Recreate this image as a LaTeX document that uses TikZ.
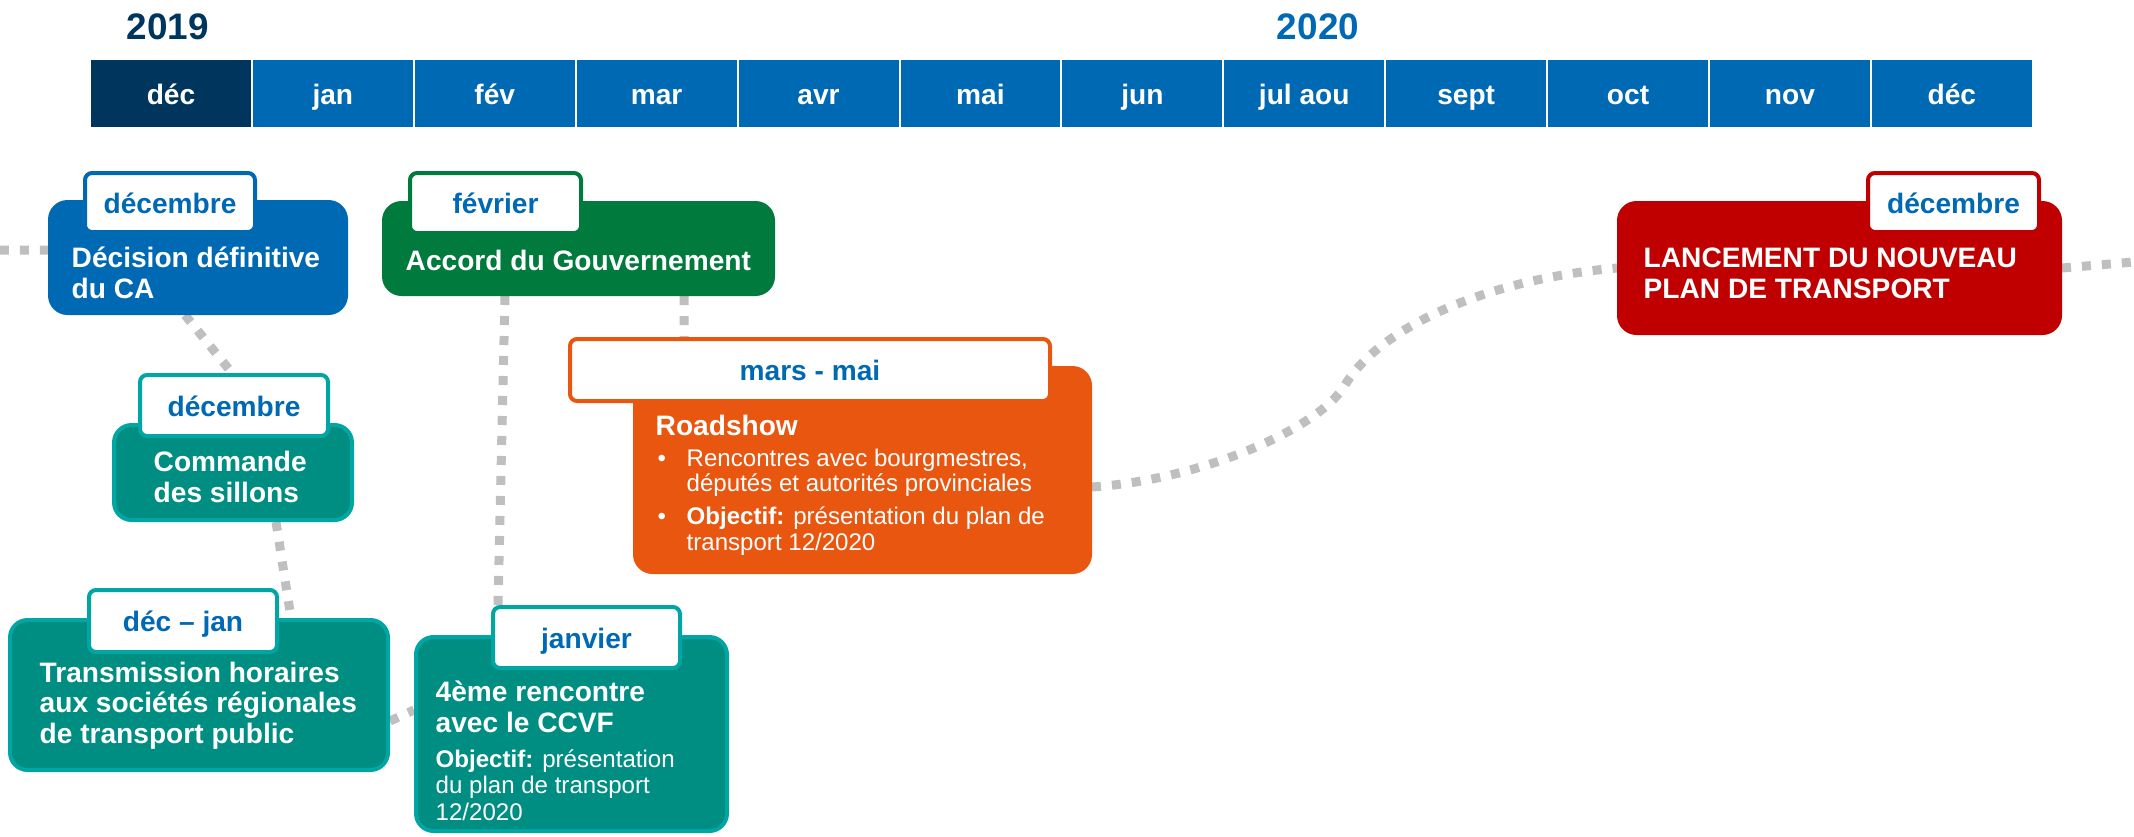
\documentclass[tikz,border=0pt]{standalone}
\usepackage{fontspec}
\setmainfont{Liberation Sans}
\usepackage{tikz}
\usetikzlibrary{backgrounds}

\definecolor{navy}{RGB}{0,53,94}
\definecolor{planblue}{RGB}{0,105,180}
\definecolor{govgreen}{RGB}{0,122,61}
\definecolor{roadorange}{RGB}{232,86,16}
\definecolor{launchred}{RGB}{192,0,0}
\definecolor{tealbody}{RGB}{0,142,130}
\definecolor{tealrim}{RGB}{0,166,163}
\definecolor{dotgrey}{RGB}{191,191,191}

\newcommand\headfont{\fontsize{8}{8.54}\selectfont\bfseries}
\newcommand\bodyfont{\fontsize{6.85}{7.3}\selectfont}
\newcommand\yearfont{\fontsize{10.5}{12}\selectfont\bfseries}

\begin{document}
\begin{tikzpicture}[x=0.1mm,y=-0.1mm,
	card/.style={draw=#1,fill=#1,line width=0.4mm,rounded corners=5pt,inner sep=0pt},
	tealcard/.style={draw=tealrim,fill=tealbody,line width=0.4mm,rounded corners=5pt,inner sep=0pt},
	tab/.style={draw=#1,fill=white,line width=0.4mm,rounded corners=2pt,inner sep=0pt,text=planblue,font=\headfont,text height=2.1mm,text depth=0mm},
	head/.style={text=white,font=\headfont,align=left,inner sep=0pt,anchor=base west},
	body/.style={text=white,font=\bodyfont,align=left,inner sep=0pt,anchor=base west},
	month/.style={fill=planblue,draw=white,line width=0.2mm,minimum width=16.19mm,minimum height=6.9mm,inner sep=0pt,text=white,font=\headfont,text height=2.1mm,text depth=0mm},
	link/.style={draw=dotgrey,line width=0.9mm,dash pattern=on 0.9mm off 1.1mm}]
	\useasboundingbox (0,0) rectangle (2134,836);

	% years and months
	\node[font=\yearfont,text=navy] (y2019) at (168,27) {2019};
	\node[font=\yearfont,text=planblue] (y2020) at (1318,27) {2020};
	\node[month,fill=navy] (m1) at (171,93.5) {déc};
	\foreach \m [count=\i from 2] in {jan,fév,mar,avr,mai,jun,jul aou,sept,oct,nov,déc}
		\node[month] (m\i) at ({90+161.9*(\i-0.5)},93.5) {\m};

	% milestones (text nodes sit on the baseline of their last line)
	\node[card=planblue,minimum width=29.6mm,minimum height=11.1mm] (ca) at (198,257.5) {};
	\node[tab=planblue,minimum width=17mm,minimum height=5.9mm] (caTab) at (170,202.5) {décembre};
	\node[head] (caText) at (71,298) {Décision définitive\\du CA};

	\node[card=govgreen,minimum width=38.9mm,minimum height=9.1mm] (gov) at (578.5,248.5) {};
	\node[tab=govgreen,minimum width=17.1mm,minimum height=6mm] (govTab) at (495.5,203) {février};
	\node[head] (govText) at (405,270) {Accord du Gouvernement};

	\node[tealcard,minimum width=23.8mm,minimum height=9.5mm] (sillons) at (233,472.5) {};
	\node[tab=tealrim,minimum width=18.8mm,minimum height=6.1mm] (sillonsTab) at (234,405.5) {décembre};
	\node[head] (sillonsText) at (153,502) {Commande\\des sillons};

	\node[tealcard,minimum width=37.8mm,minimum height=15mm] (horaires) at (199,695) {};
	\node[tab=tealrim,minimum width=18.8mm,minimum height=6.2mm] (horairesTab) at (183,621) {déc – jan};
	\node[head] (horairesText) at (39,743) {Transmission horaires\\aux sociétés régionales\\de transport public};

	\node[tealcard,minimum width=31.1mm,minimum height=19.4mm] (ccvf) at (571.5,734) {};
	\node[tab=tealrim,minimum width=18.7mm,minimum height=6.1mm] (ccvfTab) at (586.5,637.5) {janvier};
	\node[head] (ccvfText) at (435,732) {4ème rencontre\\avec le CCVF};
	\node[body,font=\fontsize{6.85}{7.45}\selectfont] (ccvfBody) at (435,820) {\textbf{Objectif:} présentation\\du plan de transport\\12/2020};

	\node[card=roadorange,minimum width=45.5mm,minimum height=20.4mm] (road) at (862.5,470) {};
	\node[tab=roadorange,minimum width=48mm,minimum height=6.2mm] (roadTab) at (810,370) {mars - mai};
	\node[head] (roadText) at (655,435) {Roadshow};
	\node[body] (roadList) at (657,550) {\makebox[2.9mm][l]{•}Rencontres avec bourgmestres,\\
		\hspace*{2.9mm}députés et autorités provinciales\\[0.7mm]
		\makebox[2.9mm][l]{•}\textbf{Objectif:} présentation du plan de\\
		\hspace*{2.9mm}transport 12/2020};

	\node[card=launchred,minimum width=44.1mm,minimum height=13mm] (launch) at (1839.5,268) {};
	\node[tab=launchred,minimum width=17.1mm,minimum height=5.9mm] (launchTab) at (1953.5,202.5) {décembre};
	\node[head] (launchText) at (1643,298) {LANCEMENT DU NOUVEAU\\PLAN DE TRANSPORT};

	\coordinate (leftEnd) at (0,250);
	\coordinate (rightEnd) at (2134,262);

	% dotted links
	\begin{scope}[on background layer]
		\draw[link] (leftEnd) -- ([yshift=0.75mm]ca.west);
		\draw[link] ([xshift=-1.3mm]ca.south) -- ([xshift=-0.2mm]sillonsTab.north);
		\draw[link] ([xshift=4.3mm]sillons.south) -- ([xshift=9.2mm]horaires.north);
		\draw[link] ([yshift=-2.6mm]horaires.east) -- ([yshift=2.4mm]ccvf.west);
		\draw[link] ([xshift=-7.35mm]gov.south) -- ([xshift=-8.85mm]ccvfTab.north);
		\draw[link] ([xshift=10.55mm]gov.south) -- ([xshift=-12.6mm]roadTab.north);
		\draw[link] ([yshift=-1.7mm]road.east) .. controls (1200,480) and (1319,429) .. (1345,385)
			.. controls (1378,330) and (1480,280) .. (launch.west);
		\draw[link] (launch.east) -- (rightEnd);
	\end{scope}
\end{tikzpicture}
\end{document}
